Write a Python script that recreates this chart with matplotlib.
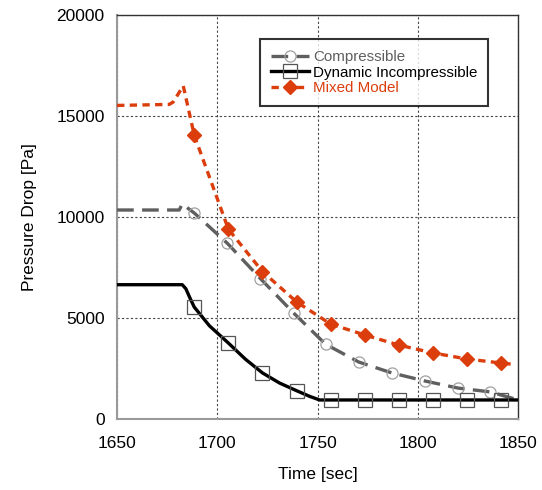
import numpy as np
import matplotlib
matplotlib.use('Agg')
import matplotlib.pyplot as plt

plt.rcParams['font.family'] = ['Liberation Sans', 'DejaVu Sans']

# Compressible (gray dashed, open circles)
t_comp = [1650, 1681, 1682.5, 1688.5, 1705, 1721.5, 1738, 1754, 1770.5, 1787, 1803.5, 1820, 1836, 1848]
p_comp = [10350, 10350, 10650, 10200, 8700, 6950, 5250, 3700, 2820, 2280, 1880, 1530, 1340, 1000]
comp_marks = list(range(3, 13))

# Dynamic incompressible (black solid, open squares)
t_dyn = [1650, 1682.5, 1684.3, 1686.3, 1688.5, 1696, 1705.5, 1714, 1722.5, 1731, 1739.5, 1746, 1751,
         1756.5, 1773.5, 1790.5, 1807.5, 1824.5, 1841.5, 1850]
p_dyn = [6650, 6650, 6450, 6000, 5540, 4620, 3760, 2960, 2280, 1780, 1400, 1120, 940,
         940, 940, 940, 940, 940, 940, 940]
dyn_marks = [4, 6, 8, 10, 13, 14, 15, 16, 17, 18]

# Mixed model (red-orange short dashes, diamonds)
t_mix = [1650, 1676, 1678, 1683, 1688.5, 1705.5, 1722.5, 1739.5, 1756.5, 1773.5, 1790.5, 1807.5, 1824.5, 1841.5, 1848]
p_mix = [15530, 15580, 15700, 16500, 14050, 9400, 7300, 5800, 4700, 4160, 3660, 3270, 2970, 2770, 2700]
mix_marks = list(range(4, 14))

c_gray = '#5f5f5f'
c_red = '#db3e0c'

fig = plt.figure(figsize=(5.42, 4.90), dpi=100)
ax = fig.add_axes([0.216, 0.145, 0.740, 0.824])

ax.plot(t_comp, p_comp, color=c_gray, lw=2.4, dashes=(5, 2.5),
        marker='o', markevery=comp_marks, ms=8, mfc='none', mec='#a0a0a0', mew=0.9,
        label='Compressible', zorder=3)
ax.plot(t_dyn, p_dyn, color='black', lw=2.4, ls='-',
        marker='s', markevery=dyn_marks, ms=10, mfc='none', mec='#555555', mew=0.9,
        label='Dynamic Incompressible', zorder=3)
ax.plot(t_mix, p_mix, color=c_red, lw=2.4, dashes=(2.2, 1.6),
        marker='D', markevery=mix_marks, ms=7.5, mfc=c_red, mec=c_red,
        label='Mixed Model', zorder=4)

ax.set_xlim(1650, 1850)
ax.set_ylim(0, 20000)
ax.set_xticks([1650, 1700, 1750, 1800, 1850])
ax.set_yticks([0, 5000, 10000, 15000, 20000])
ax.tick_params(length=0, labelsize=12.5)
ax.tick_params(axis='x', pad=12)
ax.tick_params(axis='y', pad=9)
ax.set_xlabel('Time [sec]', fontsize=12.5, labelpad=12)
ax.set_ylabel('Pressure Drop [Pa]', fontsize=12.5, labelpad=14)

ax.grid(True, color='#444444', ls=(0, (2, 2)), lw=0.8)
ax.set_axisbelow(True)
for s in ['left', 'bottom']:
    ax.spines[s].set_color('#999999')
    ax.spines[s].set_linewidth(1.5)
for s in ['top', 'right']:
    ax.spines[s].set_color('#333333')
    ax.spines[s].set_linewidth(1.0)

leg = ax.legend(loc='upper left', bbox_to_anchor=(0.357, 0.94), borderaxespad=0,
                fontsize=10.9, frameon=True, fancybox=False, edgecolor='black',
                handlelength=2.5, handletextpad=0.3, borderpad=0.7, labelspacing=0.1)
leg.get_frame().set_linewidth(1.5)
for txt, col in zip(leg.get_texts(), [c_gray, 'black', c_red]):
    txt.set_color(col)

fig.savefig('out.png', dpi=100)
